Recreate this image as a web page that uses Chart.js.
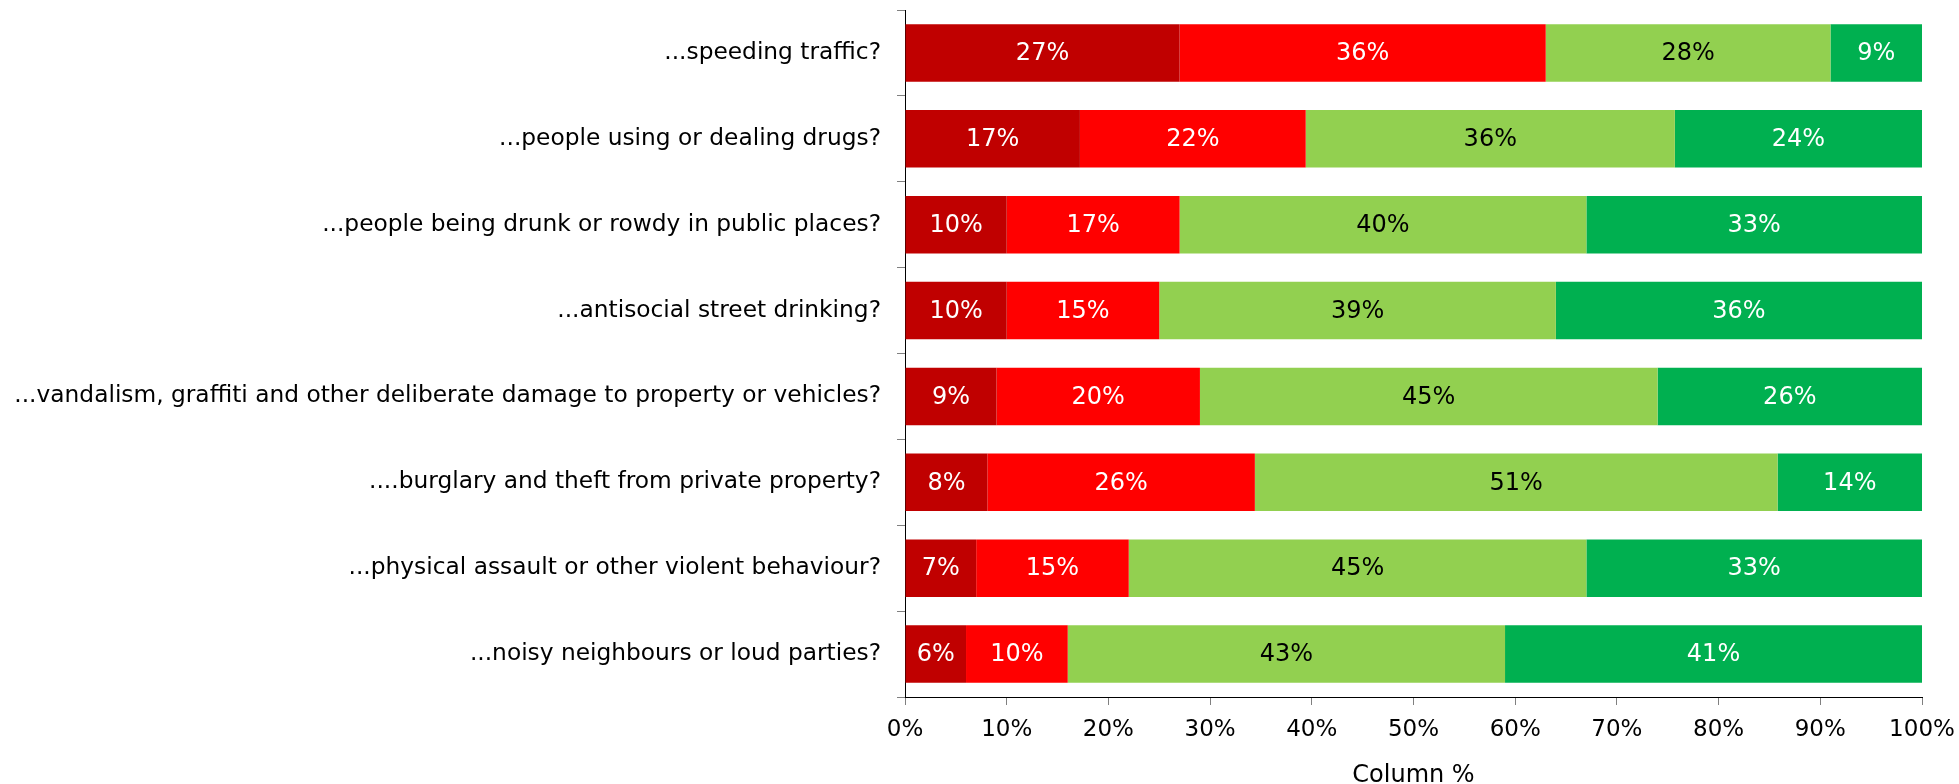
<!DOCTYPE html>
<html>
<head>
<meta charset="utf-8">
<script src="https://cdn.jsdelivr.net/npm/chart.js@4.4.1/dist/chart.umd.min.js"></script>
<style>
  body { margin: 0; background: #fff; }
  #wrap { width: 1959px; height: 784px; position: relative; }
</style>
</head>
<body>
<div id="wrap"><canvas id="chart"></canvas></div>
<script>
const questions = [
  "...speeding traffic?",
  "...people using or dealing drugs?",
  "...people being drunk or rowdy in public places?",
  "...antisocial street drinking?",
  "...vandalism, graffiti and other deliberate damage to property or vehicles?",
  "....burglary and theft from private property?",
  "...physical assault or other violent behaviour?",
  "...noisy neighbours or loud parties?",
];

// Column % per answer, one array per response band
const veryBig = [27, 17.2, 10, 10, 9, 8.1, 7, 6];
const fairlyBig = [36, 22.2, 17, 15, 20, 26.3, 15, 10];
const notVeryBig = [28, 36.3, 40, 39, 45, 51.4, 45, 43];
const notAtAll = [9, 24.3, 33, 36, 26, 14.2, 33, 41];

const xTicks = [0, 10, 20, 30, 40, 50, 60, 70, 80, 90, 100];

const FONT = "'DejaVu Sans', Verdana, sans-serif";

const series = [
  { data: veryBig, color: "#C00000", text: "#ffffff" },
  { data: fairlyBig, color: "#FF0000", text: "#ffffff" },
  { data: notVeryBig, color: "#92D050", text: "#000000" },
  { data: notAtAll, color: "#00B050", text: "#ffffff" },
];

// Writes the rounded percentage in the middle of each segment
const segmentLabels = {
  id: "segmentLabels",
  afterDatasetsDraw(chart) {
    const ctx = chart.ctx;
    ctx.save();
    ctx.font = "24px " + FONT;
    ctx.textAlign = "center";
    ctx.textBaseline = "middle";
    chart.data.datasets.forEach((ds, i) => {
      const meta = chart.getDatasetMeta(i);
      meta.data.forEach((bar, j) => {
        const v = ds.data[j];
        ctx.fillStyle = series[i].text;
        ctx.fillText(Math.round(v) + "%", (bar.x + bar.base) / 2, bar.y + 1);
      });
    });
    ctx.restore();
  },
};

new Chart(document.getElementById("chart"), {
  type: "bar",
  data: {
    labels: questions,
    datasets: series.map((s) => ({
      data: s.data,
      backgroundColor: s.color,
      borderWidth: 0,
      categoryPercentage: 1,
      barPercentage: 0.67,
    })),
  },
  options: {
    indexAxis: "y",
    responsive: true,
    maintainAspectRatio: false,
    animation: false,
    layout: { padding: { top: 10, right: 37, left: 0, bottom: 0 } },
    plugins: {
      legend: { display: false },
      tooltip: { enabled: false },
    },
    scales: {
      x: {
        stacked: true,
        min: 0,
        max: 100,
        afterBuildTicks: (axis) => {
          axis.ticks = xTicks.map((v) => ({ value: v }));
        },
        afterFit: (axis) => {
          axis.height = 87;
          axis.paddingLeft = 0;
          axis.paddingRight = 0;
        },
        ticks: {
          color: "#000",
          font: { family: FONT, size: 23 },
          padding: 11,
          maxRotation: 0,
          callback: (v) => v + "%",
        },
        grid: {
          drawOnChartArea: false,
          drawTicks: true,
          tickLength: 8,
          color: "#808080",
        },
        border: { color: "#000", width: 1 },
        title: {
          display: true,
          text: "Column %",
          color: "#000",
          font: { family: FONT, size: 24 },
          padding: { top: 8, bottom: -6 },
        },
      },
      y: {
        stacked: true,
        afterFit: (axis) => {
          axis.width = 905;
          axis.paddingTop = 0;
          axis.paddingBottom = 0;
        },
        ticks: {
          color: "#000",
          font: { family: FONT, size: 23.3 },
          padding: 16,
        },
        grid: {
          offset: true,
          drawOnChartArea: false,
          drawTicks: true,
          tickLength: 8,
          color: "#808080",
        },
        border: { color: "#000", width: 1 },
      },
    },
  },
  plugins: [segmentLabels],
});
</script>
</body>
</html>
